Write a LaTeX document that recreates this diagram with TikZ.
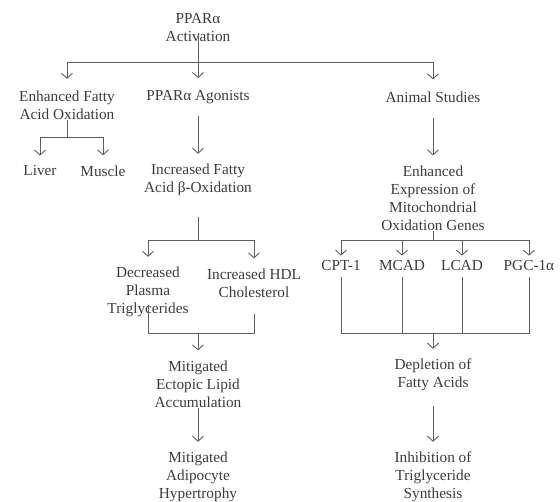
\documentclass[tikz,border=0pt]{standalone}
\usepackage{fontspec}
\setmainfont{Liberation Serif}
\usepackage{tikz}
\usetikzlibrary{arrows.meta, positioning}
\definecolor{TextGray}{RGB}{60, 60, 60}
\definecolor{LineGray}{RGB}{95, 95, 95}

\begin{document}
\begin{tikzpicture}[x=1pt, y=-1pt,
        every node/.style={font=\fontsize{15.3}{18}\selectfont, text=TextGray, align=center, inner sep=0pt},
        wire/.style={draw=LineGray, line width=0.9pt},
        link/.style={wire, -{Straight Barb[length=5pt, width=11pt]}, shorten >=10pt}]
        \useasboundingbox (0,0) rectangle (560,502);

        % Top
        \node (root) at (198,28) {PPARα\\Activation};
        \node (enh) at (67,105.5) {Enhanced Fatty\\Acid Oxidation};
        \node (agon) at (198,97) {PPARα Agonists};
        \node (anim) at (433,97) {Animal Studies};

        % Left branch
        \node (liver) at (40,171) {Liver};
        \node (muscle) at (103,171) {Muscle};

        % Middle branch
        \node (incr) at (198,180) {Increased Fatty\\Acid β-Oxidation};
        \node (decr) at (148,292) {Decreased\\Plasma\\Triglycerides};
        \node (hdl) at (254,283) {Increased HDL\\Cholesterol};
        \node (mitec) at (198,384) {Mitigated\\Ectopic Lipid\\Accumulation};
        \node (mitad) at (198,477) {Mitigated\\Adipocyte\\Hypertrophy};

        % Right branch
        \node (expr) at (433,198) {Enhanced\\Expression of\\Mitochondrial\\Oxidation Genes};
        \node (cpt) at (341,266) {CPT-1};
        \node (mcad) at (402,266) {MCAD};
        \node (lcad) at (462,266) {LCAD};
        \node (pgc) at (529,266) {PGC-1α};
        \node (deplet) at (433,375) {Depletion of\\Fatty Acids};
        \node (inhib) at (433,477) {Inhibition of\\Triglyceride\\Synthesis};

        % Junctions
        \coordinate (j0) at (198,62);
        \coordinate (j1) at (67,137);
        \coordinate (j2) at (198,240);
        \coordinate (j3) at (433,240);
        \coordinate (j4) at (198,333);
        \coordinate (j5) at (433,333);

        % Connectors
        \draw[link, shorten >=12pt] ([yshift=9pt]root.south) -- (agon);
        \draw[link, shorten >=12pt] (j0) -| (enh);
        \draw[link, shorten >=12pt] (j0) -| (anim);

        \draw[wire] (enh) -- (j1);
        \draw[link] (j1) -| (liver);
        \draw[link] (j1) -| (muscle);

        \draw[link, shorten <=12pt] (agon) -- (incr);
        \draw[wire, shorten <=21pt] (incr) -- (j2);
        \draw[link] (j2) -| (decr);
        \draw[link] (j2) -| (hdl);
        \draw[wire] ([yshift=12pt]decr.south) |- (j4);
        \draw[wire] ([yshift=-16pt]hdl.south) |- (j4);
        \draw[link] (j4) -- (mitec);
        \draw[link] (mitec) -- (mitad);

        \draw[link, shorten <=15pt] (anim) -- (expr);
        \draw[wire] (expr) -- (j3);
        \foreach \g in {cpt, mcad, lcad, pgc} {
            \draw[link, shorten >=5pt] (j3) -| (\g);
            \draw[wire] ([yshift=-6pt]\g.south) |- (j5);
        }
        \draw[link] (j5) -- (deplet);
        \draw[link, shorten <=15pt] (deplet) -- (inhib);
    \end{tikzpicture}
\end{document}
